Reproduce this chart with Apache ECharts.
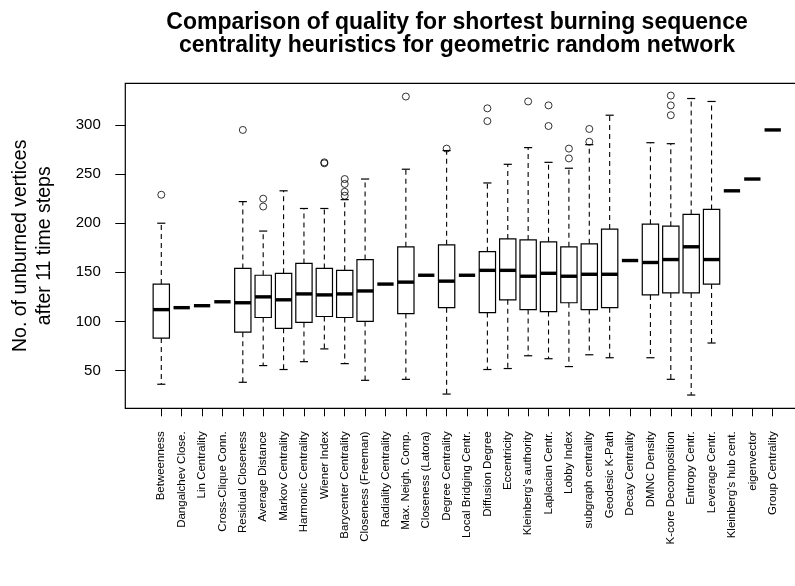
<!DOCTYPE html>
<html>
<head>
<meta charset="utf-8">
<script src="https://cdn.jsdelivr.net/npm/echarts@6/dist/echarts.min.js"></script>
<style>
html, body { margin: 0; padding: 0; background: #fff; }
#chart { width: 795px; height: 586px; }
</style>
</head>
<body>
<div id="chart"></div>
<script>
// heuristics, in plotting order
var categories = [
    'Betweenness', 'Dangalchev Close.', 'Lin Centrality', 'Cross-Clique Conn.',
    'Residual Closeness', 'Average Distance', 'Markov Centrality', 'Harmonic Centrality',
    'Wiener Index', 'Barycenter Centrality', 'Closeness (Freeman)', 'Radiality Centrality',
    'Max. Neigh. Comp.', 'Closeness (Latora)', 'Degree Centrality', 'Local Bridging Centr.',
    'Diffusion Degree', 'Eccentricity', "Kleinberg's authority", 'Laplacian Centr.',
    'Lobby Index', 'subgraph centrality', 'Geodesic K-Path', 'Decay Centrality',
    'DMNC Density', 'K-core Decomposition', 'Entropy Centr.', 'Leverage Centr.',
    "Kleinberg's hub cent.", 'eigenvector', 'Group Centrality'
];
// box statistics (lower whisker, Q1, median, Q3, upper whisker)
var whiskerLow  = [36, 114, 116, 120, 38, 55, 51, 59, 72, 57, 40, 138, 41, 147, 26, 147, 51, 52, 65, 62, 54, 66, 63, 162, 63, 41, 25, 78, 233, 245, 295];
var q1          = [83, 114, 116, 120, 89, 104, 93, 99, 105, 104, 100, 138, 108, 147, 114, 147, 109, 122, 112, 110, 119, 112, 114, 162, 127, 129, 129, 138, 233, 245, 295];
var medians     = [112, 114, 116, 120, 119, 125, 122, 128, 127, 128, 131, 138, 140, 147, 141, 147, 152, 152, 146, 149, 146, 148, 148, 162, 160, 163, 176, 163, 233, 245, 295];
var q3          = [138, 114, 116, 120, 154, 147, 149, 159, 154, 152, 163, 138, 176, 147, 178, 147, 171, 184, 183, 181, 176, 179, 194, 162, 199, 197, 209, 214, 233, 245, 295];
var whiskerHigh = [200, 114, 116, 120, 222, 192, 233, 215, 215, 224, 245, 138, 255, 147, 274, 147, 241, 260, 277, 262, 256, 280, 310, 162, 282, 281, 327, 324, 233, 245, 295];
// outliers: category index + value
var outlierCat = [0, 4, 5, 5, 8, 8, 9, 9, 9, 9, 12, 14, 16, 16, 18, 19, 19, 20, 20, 21, 21, 25, 25, 25];
var outlierVal = [229, 295, 225, 217, 261, 262, 245, 240, 232, 228, 329, 276, 317, 304, 324, 320, 299, 276, 266, 296, 283, 330, 320, 310];
var yTicks = [50, 100, 150, 200, 250, 300];

var FONT = "'Liberation Sans', Arial, sans-serif";

var boxData = categories.map(function (c, i) {
    return [i, whiskerLow[i], q1[i], medians[i], q3[i], whiskerHigh[i]];
});
var outlierData = outlierCat.map(function (c, i) {
    return [c, outlierVal[i]];
});

function renderBox(params, api) {
    var i = api.value(0);
    var band = api.size([1, 0])[0];
    var half = band * 0.4;
    var capHalf = band * 0.2;
    var x = api.coord([i, 0])[0];
    var yLow = api.coord([i, api.value(1)])[1];
    var yQ1 = api.coord([i, api.value(2)])[1];
    var yMed = api.coord([i, api.value(3)])[1];
    var yQ3 = api.coord([i, api.value(4)])[1];
    var yHigh = api.coord([i, api.value(5)])[1];
    var thin = { stroke: '#000', lineWidth: 1.2, fill: null };
    var dashed = { stroke: '#000', lineWidth: 1.1, lineDash: [5, 4] };
    var children = [];
    if (api.value(2) !== api.value(4)) {
        children.push(
            { type: 'line', shape: { x1: x, y1: yQ3, x2: x, y2: yHigh }, style: dashed },
            { type: 'line', shape: { x1: x, y1: yQ1, x2: x, y2: yLow }, style: dashed },
            { type: 'line', shape: { x1: x - capHalf, y1: yHigh, x2: x + capHalf, y2: yHigh }, style: thin },
            { type: 'line', shape: { x1: x - capHalf, y1: yLow, x2: x + capHalf, y2: yLow }, style: thin },
            { type: 'rect', shape: { x: x - half, y: yQ3, width: half * 2, height: yQ1 - yQ3 }, style: thin }
        );
    }
    children.push({
        type: 'line',
        shape: { x1: x - half, y1: yMed, x2: x + half, y2: yMed },
        style: { stroke: '#000', lineWidth: 3.4 }
    });
    return { type: 'group', children: children };
}

var chart = echarts.init(document.getElementById('chart'));
chart.setOption({
    animation: false,
    backgroundColor: '#fff',
    graphic: [{
        // main title, centred over the plot region
        type: 'text',
        x: 457,
        y: 11,
        style: {
            text: 'Comparison of quality for shortest burning sequence\ncentrality heuristics for geometric random network',
            align: 'center',
            verticalAlign: 'top',
            fontFamily: FONT,
            fontSize: 23,
            fontWeight: 'bold',
            lineHeight: 23,
            fill: '#000'
        }
    }],
    grid: [
        { left: 151.1, top: 83.3, width: 631.8, height: 325, outerBoundsMode: 'none' },
        // plot frame, R style
        { left: 125.3, top: 83.3, width: 700, height: 325, show: true, borderColor: '#000', borderWidth: 1.2, backgroundColor: 'transparent', outerBoundsMode: 'none' }
    ],
    xAxis: [{
        type: 'category',
        gridIndex: 0,
        data: categories,
        boundaryGap: true,
        axisLine: { show: false },
        axisTick: { show: true, alignWithLabel: true, length: 8, lineStyle: { color: '#000' } },
        axisLabel: { interval: 0, rotate: 90, margin: 23, fontSize: 11.5, fontFamily: FONT, color: '#000' },
        splitLine: { show: false }
    }, {
        type: 'value', gridIndex: 1, show: false
    }],
    yAxis: [{
        type: 'value',
        gridIndex: 0,
        min: 11.5,
        max: 342.5,
        offset: 25.8,
        axisLine: { show: false },
        axisTick: { show: true, length: 10, customValues: yTicks, lineStyle: { color: '#000' } },
        axisLabel: { customValues: yTicks, margin: 24.5, fontSize: 15, fontFamily: FONT, color: '#000' },
        splitLine: { show: false },
        name: 'No. of unburned vertices\nafter 11 time steps',
        nameLocation: 'middle',
        nameGap: 69,
        nameTextStyle: { fontFamily: FONT, fontSize: 19.5, lineHeight: 24, color: '#000' }
    }, {
        type: 'value', gridIndex: 1, show: false
    }],
    series: [{
        type: 'custom',
        xAxisIndex: 0,
        yAxisIndex: 0,
        renderItem: renderBox,
        encode: { x: 0, y: [1, 2, 3, 4, 5] },
        data: boxData,
        z: 3
    }, {
        type: 'scatter',
        xAxisIndex: 0,
        yAxisIndex: 0,
        symbol: 'circle',
        symbolSize: 7,
        itemStyle: { color: 'transparent', borderColor: '#000', borderWidth: 1 },
        data: outlierData,
        z: 4
    }]
});
</script>
</body>
</html>
